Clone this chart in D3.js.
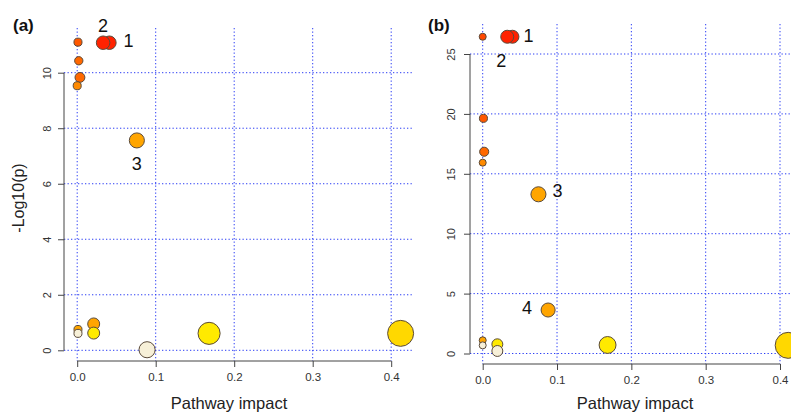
<!DOCTYPE html>
<html><head><meta charset="utf-8">
<script src="https://cdn.jsdelivr.net/npm/d3@7"></script>
<style>
html,body{margin:0;padding:0;background:#fff;}
svg{display:block;font-family:"Liberation Sans",Arial,sans-serif;}
</style></head>
<body>
<svg id="chart" width="791" height="412"></svg>
<script>
// ---------- DATA ----------
const xTicks = [0, 0.1, 0.2, 0.3, 0.4];
const xTickLabels = ["0.0", "0.1", "0.2", "0.3", "0.4"];

// Panel (a)
const impactA = [0.041, 0.033, 0.001, 0.002, 0.0035, 0.000, 0.076, 0.001, 0.001, 0.021, 0.021, 0.089, 0.168, 0.412];
const logpA   = [11.08, 11.08, 11.10, 10.43, 9.83, 9.53, 7.56, 0.75, 0.61, 0.95, 0.62, 0.02, 0.61, 0.61];
const levelA  = [0, 0, 2, 3, 3, 4, 5, 5, 8, 5, 7, 8, 7, 6];
const sizeA   = [0.52, 0.52, 0.31, 0.32, 0.38, 0.31, 0.58, 0.31, 0.31, 0.46, 0.46, 0.62, 0.85, 1.00];
const yTicksA = [0, 2, 4, 6, 8, 10];
const labelsA = ["1", "2", "", "", "", "", "3", "", "", "", "", "", "", ""];

// Panel (b)
const impactB = [0.040, 0.033, 0.000, 0.001, 0.002, 0.000, 0.075, 0.088, 0.000, 0.000, 0.0197, 0.0197, 0.168, 0.411];
const logpB   = [26.44, 26.44, 26.44, 19.63, 16.84, 15.93, 13.29, 3.63, 1.10, 0.68, 0.77, 0.21, 0.71, 0.68];
const levelB  = [0, 0, 1, 2, 3, 4, 5, 5, 5, 8, 7, 8, 7, 6];
const sizeB   = [0.50, 0.50, 0.27, 0.31, 0.35, 0.27, 0.58, 0.54, 0.27, 0.27, 0.42, 0.42, 0.65, 1.00];
const yTicksB = [0, 5, 10, 15, 20, 25];
const labelsB = ["1", "2", "", "", "", "", "3", "4", "", "", "", "", "", ""];

// ---------- STYLE ----------
const palette = ["#ff2200", "#ff4800", "#ff5800", "#ff6800", "#ff8a00", "#ffa500", "#ffd800", "#ffea00", "#f7f0d8"];

const svg = d3.select("#chart");

function panel(cfg) {
  const x = d3.scaleLinear().domain([0, 0.4]).range(cfg.xRange);
  const y = d3.scaleLinear().domain([0, cfg.yMax]).range(cfg.yRange);
  const r = d3.scaleLinear().domain([0, 1]).range([0, cfg.rMax]);
  const g = svg.append("g");

  // grid
  const grid = g.append("g").attr("stroke", "#2a3cf5").attr("stroke-width", 1)
    .attr("stroke-dasharray", "1.3,2.2").attr("fill", "none");
  grid.selectAll("line.v").data(xTicks).join("line")
    .attr("x1", d => x(d)).attr("x2", d => x(d))
    .attr("y1", cfg.plotTop).attr("y2", cfg.plotBottom);
  grid.selectAll("line.h").data(cfg.yTicks).join("line")
    .attr("y1", d => y(d)).attr("y2", d => y(d))
    .attr("x1", cfg.plotLeft).attr("x2", cfg.plotRight);

  // x axis
  const xa = g.append("g").attr("transform", `translate(0,${cfg.plotBottom})`)
    .call(d3.axisBottom(x).tickValues(xTicks).tickFormat((d, i) => xTickLabels[i]).tickSize(6).tickPadding(6));
  xa.select(".domain").attr("stroke", "#444").attr("d", `M${x(0)},0H${x(0.4)}`);
  xa.selectAll(".tick line").attr("stroke", "#444");
  xa.selectAll(".tick text").attr("font-size", 11.5).attr("fill", "#333")
    .attr("font-family", "Liberation Sans, Arial, sans-serif");

  // y axis
  const ya = g.append("g").attr("transform", `translate(${cfg.plotLeft},0)`)
    .call(d3.axisLeft(y).tickValues(cfg.yTicks).tickSize(6).tickFormat(d3.format("d")));
  ya.select(".domain").attr("stroke", "#444")
    .attr("d", `M0,${y(0)}V${y(cfg.yTicks[cfg.yTicks.length - 1])}`);
  ya.selectAll(".tick line").attr("stroke", "#444");
  ya.selectAll(".tick text")
    .attr("font-size", 11).attr("fill", "#333")
    .attr("font-family", "Liberation Sans, Arial, sans-serif")
    .attr("text-anchor", "middle")
    .attr("x", null).attr("dy", null)
    .attr("transform", `translate(${cfg.yLabelX - cfg.plotLeft},0) rotate(-90)`)
    .attr("dy", "0.35em");

  // points
  const pts = cfg.impact.map((v, i) => ({ x: v, y: cfg.logp[i], lv: cfg.level[i], s: cfg.size[i], lab: cfg.labels[i] }));
  g.append("g").selectAll("circle").data(pts).join("circle")
    .attr("cx", d => x(d.x)).attr("cy", d => y(d.y)).attr("r", d => r(d.s))
    .attr("fill", d => palette[d.lv]).attr("stroke", "#5a4a3a").attr("stroke-width", 1);

  // labels
  const labs = pts.filter(d => d.lab);
  g.append("g").selectAll("text").data(labs).join("text")
    .attr("x", d => x(d.x) + cfg.labelOffsets[d.lab][0])
    .attr("y", d => y(d.y) + cfg.labelOffsets[d.lab][1])
    .attr("text-anchor", d => cfg.labelOffsets[d.lab][2])
    .attr("font-size", 18).attr("fill", "#111")
    .text(d => d.lab);

  // x title
  g.append("text").attr("x", cfg.xTitleX).attr("y", 409).attr("text-anchor", "middle")
    .attr("font-size", 16.5).attr("fill", "#222").text("Pathway impact");

  // panel tag
  g.append("text").attr("x", cfg.tagX).attr("y", 31).attr("font-size", 17)
    .attr("font-weight", "bold").attr("fill", "#111").text(cfg.tag);
  return g;
}

panel({
  impact: impactA, logp: logpA, level: levelA, size: sizeA, labels: labelsA,
  yTicks: yTicksA, yMax: 10,
  xRange: [77.2, 391.2], yRange: [350.3, 72.7], rMax: 13,
  plotLeft: 64, plotRight: 413, plotTop: 28, plotBottom: 361,
  yLabelX: 47, xTitleX: 229, tagX: 13, tag: "(a)",
  labelOffsets: { "1": [14, 4, "start"], "2": [0, -11, "middle"], "3": [0, 30, "middle"] }
});
svg.append("text").attr("transform", "translate(24,198) rotate(-90)")
  .attr("text-anchor", "middle").attr("font-size", 16).attr("fill", "#222").text("-Log10(p)");

panel({
  impact: impactB, logp: logpB, level: levelB, size: sizeB, labels: labelsB,
  yTicks: yTicksB, yMax: 25,
  xRange: [482.7, 780], yRange: [353.5, 54], rMax: 13,
  plotLeft: 470, plotRight: 791, plotTop: 24, plotBottom: 364,
  yLabelX: 451, xTitleX: 635, tagX: 428, tag: "(b)",
  labelOffsets: { "1": [11, 5, "start"], "2": [-6, 30, "middle"], "3": [14, 3, "start"], "4": [-16, 4, "end"] }
});
</script>
</body></html>
